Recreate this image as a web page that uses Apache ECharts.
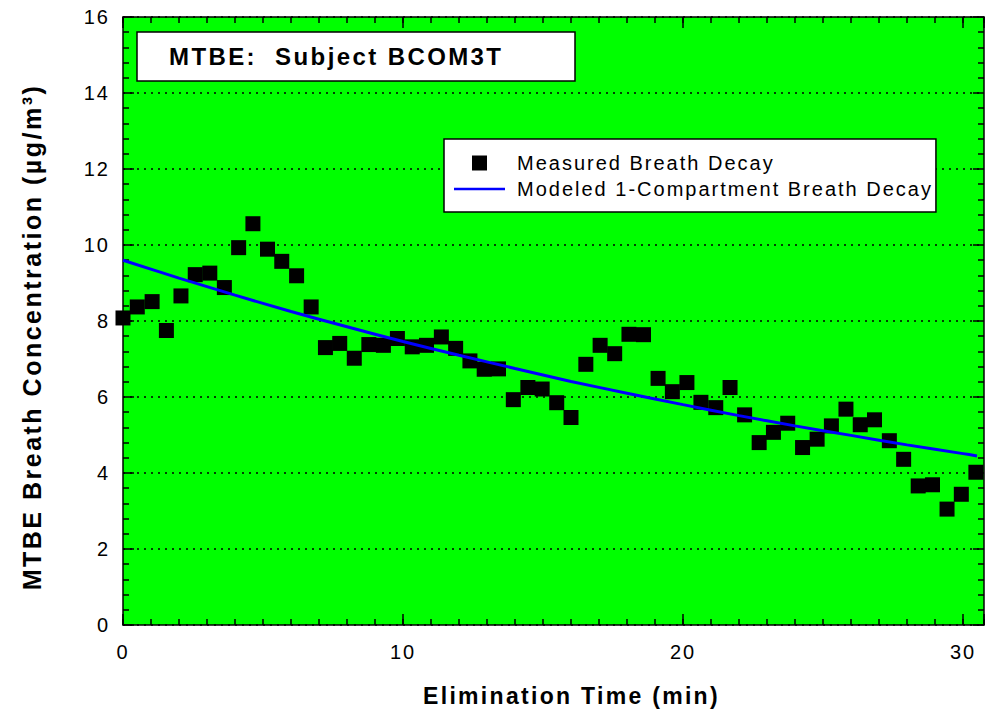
<!DOCTYPE html>
<html>
<head>
<meta charset="utf-8">
<script src="https://cdn.jsdelivr.net/npm/echarts@6/dist/echarts.min.js"></script>
<style>
  html, body { margin: 0; padding: 0; background: #ffffff; }
  #chart { width: 987px; height: 713px; }
  /* slightly open tracking for all chart text */
  #chart text { letter-spacing: 0.1em; }
</style>
</head>
<body>
<div id="chart"></div>
<script>
// Measured MTBE breath concentrations (µg/m³) against elimination time (min)
const measuredTimes = [
  0, 0.51, 1.04, 1.55, 2.07, 2.58, 3.10, 3.62, 4.13, 4.64,
  5.16, 5.67, 6.20, 6.72, 7.23, 7.74, 8.26, 8.78, 9.30, 9.80,
  10.33, 10.84, 11.37, 11.88, 12.39, 12.90, 13.41, 13.94, 14.46, 14.97,
  15.49, 16.00, 16.53, 17.04, 17.56, 18.07, 18.59, 19.11, 19.62, 20.14,
  20.64, 21.17, 21.68, 22.20, 22.72, 23.23, 23.74, 24.27, 24.79, 25.30,
  25.82, 26.33, 26.84, 27.37, 27.88, 28.40, 28.91, 29.43, 29.94, 30.46
];
const measuredValues = [
  8.08, 8.37, 8.51, 7.75, 8.66, 9.22, 9.26, 8.88, 9.93, 10.56,
  9.89, 9.57, 9.19, 8.37, 7.30, 7.41, 7.02, 7.38, 7.36, 7.54,
  7.32, 7.36, 7.58, 7.28, 6.95, 6.73, 6.74, 5.93, 6.25, 6.21,
  5.85, 5.46, 6.86, 7.36, 7.14, 7.65, 7.64, 6.49, 6.14, 6.38,
  5.86, 5.72, 6.25, 5.53, 4.80, 5.07, 5.31, 4.67, 4.89, 5.24,
  5.68, 5.27, 5.40, 4.85, 4.36, 3.66, 3.69, 3.05, 3.44, 4.02
];

// Fitted one-compartment decay curve
const modelTimes  = [0, 2, 4, 6, 8, 10, 12, 14, 16, 18, 20, 22, 24, 26, 28, 30, 30.5];
const modelValues = [9.60, 9.13, 8.68, 8.25, 7.85, 7.46, 7.10, 6.75, 6.41, 6.10, 5.80, 5.51, 5.24, 4.99, 4.74, 4.51, 4.45];

// Axis ranges and ticks
const xMin = 0, xMax = 30.75, xMajor = 10, xMinor = 1;
const yMin = 0, yMax = 16, yMajor = 2;

const seriesNames = ['Measured Breath Decay', 'Modeled 1-Compartment Breath Decay'];
const chartTitle = 'MTBE:  Subject BCOM3T';
const xTitle = 'Elimination Time (min)';
const yTitle = 'MTBE Breath Concentration (µg/m³)';

const FONT = "'Liberation Sans', Arial, Helvetica, sans-serif";

const scatterData = measuredTimes.map((t, i) => [t, measuredValues[i]]);
const modelData = modelTimes.map((t, i) => [t, modelValues[i]]);

const baseX = { type: 'value', min: xMin, max: xMax, gridIndex: 0 };
const baseY = { type: 'value', min: yMin, max: yMax, interval: yMajor, gridIndex: 0 };

const chart = echarts.init(document.getElementById('chart'), null, { renderer: 'svg' });

chart.setOption({
  animation: false,
  backgroundColor: '#ffffff',
  textStyle: { fontFamily: FONT },
  title: {
    text: chartTitle,
    left: 137,
    top: 32,
    padding: [12, 122, 12, 32],
    backgroundColor: '#ffffff',
    borderColor: '#000000',
    borderWidth: 1.5,
    textStyle: { fontFamily: FONT, fontSize: 24, fontWeight: 'bold', color: '#000000', lineHeight: 25 }
  },
  legend: {
    orient: 'vertical',
    left: 444,
    top: 139,
    padding: [14, 71, 13, 10],
    itemGap: 6,
    itemWidth: 51,
    itemHeight: 15,
    symbolKeepAspect: true,
    backgroundColor: '#ffffff',
    borderColor: '#000000',
    borderWidth: 1.5,
    borderRadius: 0,
    textStyle: { fontFamily: FONT, fontSize: 20, color: '#000000', lineHeight: 20, padding: [0, 0, 0, 7] },
    data: [
      // square marker keyed at its own aspect, and a plain line key
      { name: seriesNames[0], icon: 'path://M0,0H10V10H0Z', itemStyle: { color: '#000000', opacity: 1 } },
      { name: seriesNames[1], icon: 'path://M0,0H51V2.4H0Z', itemStyle: { color: '#0000ff', opacity: 1 } }
    ]
  },
  grid: {
    left: 123, right: 0, top: 17, bottom: 88,
    show: true,
    backgroundColor: '#00ff00',
    borderWidth: 0
  },
  xAxis: [
    // bottom axis: line, minor ticks, labels and title
    Object.assign({}, baseX, {
      position: 'bottom',
      interval: xMinor,
      name: xTitle,
      nameLocation: 'middle',
      nameGap: 59,
      nameTextStyle: { fontFamily: FONT, fontSize: 23, fontWeight: 'bold', color: '#000000', padding: [0, 0, 0, 36] },
      axisLine: { show: true, onZero: false, lineStyle: { color: '#000000', width: 1.5 } },
      axisTick: { show: true, inside: true, length: 6, lineStyle: { color: '#000000', width: 1.5 } },
      axisLabel: {
        show: true, margin: 17, fontSize: 20, color: '#000000', fontFamily: FONT,
        formatter: v => (v % xMajor === 0 ? String(v) : '')
      },
      splitLine: { show: false }
    }),
    // bottom axis: long major ticks
    Object.assign({}, baseX, {
      position: 'bottom',
      interval: xMajor,
      axisLine: { show: false, onZero: false },
      axisTick: { show: true, inside: true, length: 11, lineStyle: { color: '#000000', width: 1.5 } },
      axisLabel: { show: false },
      splitLine: { show: false }
    }),
    // top frame: minor ticks
    Object.assign({}, baseX, {
      position: 'top',
      interval: xMinor,
      axisLine: { show: true, onZero: false, lineStyle: { color: '#000000', width: 1.5 } },
      axisTick: { show: true, inside: true, length: 6, lineStyle: { color: '#000000', width: 1.5 } },
      axisLabel: { show: false },
      splitLine: { show: false }
    }),
    // top frame: major ticks
    Object.assign({}, baseX, {
      position: 'top',
      interval: xMajor,
      axisLine: { show: false, onZero: false },
      axisTick: { show: true, inside: true, length: 11, lineStyle: { color: '#000000', width: 1.5 } },
      axisLabel: { show: false },
      splitLine: { show: false }
    })
  ],
  yAxis: [
    Object.assign({}, baseY, {
      position: 'left',
      name: yTitle,
      nameLocation: 'middle',
      nameGap: 79,
      nameTextStyle: { fontFamily: FONT, fontSize: 25, fontWeight: 'bold', color: '#000000', padding: [0, 32, 0, 0] },
      axisLine: { show: true, onZero: false, lineStyle: { color: '#000000', width: 1.5 } },
      axisTick: { show: true, inside: true, length: 11, lineStyle: { color: '#000000', width: 1.5 } },
      minorTick: { show: true, splitNumber: 5, length: 6, lineStyle: { color: '#000000', width: 1.5 } },
      axisLabel: { show: true, margin: 13, fontSize: 20, color: '#000000', fontFamily: FONT },
      splitLine: { show: true, lineStyle: { color: '#000000', width: 1.5, type: [2, 5] } }
    }),
    Object.assign({}, baseY, {
      position: 'right',
      axisLine: { show: true, onZero: false, lineStyle: { color: '#000000', width: 1.5 } },
      axisTick: { show: true, inside: true, length: 11, lineStyle: { color: '#000000', width: 1.5 } },
      minorTick: { show: true, splitNumber: 5, length: 6, lineStyle: { color: '#000000', width: 1.5 } },
      axisLabel: { show: false },
      splitLine: { show: false }
    })
  ],
  series: [
    {
      name: seriesNames[0],
      type: 'scatter',
      xAxisIndex: 0,
      yAxisIndex: 0,
      symbol: 'rect',
      symbolSize: 15,
      itemStyle: { color: '#000000', opacity: 1 },
      data: scatterData,
      z: 3
    },
    {
      name: seriesNames[1],
      type: 'line',
      xAxisIndex: 0,
      yAxisIndex: 0,
      symbol: 'none',
      smooth: 0.3,
      lineStyle: { color: '#0000ff', width: 3 },
      itemStyle: { color: '#0000ff' },
      data: modelData,
      z: 4
    }
  ]
});
</script>
</body>
</html>
